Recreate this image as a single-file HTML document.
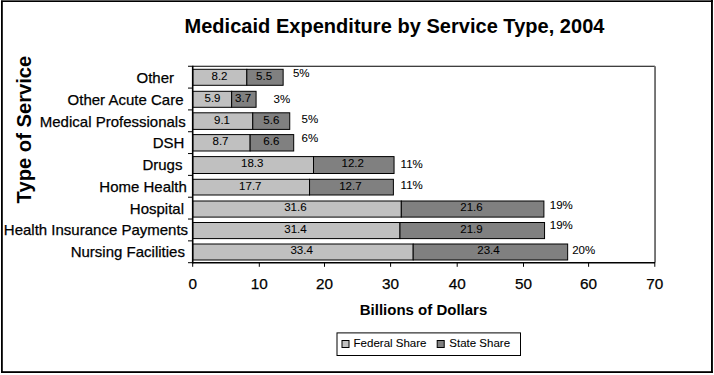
<!DOCTYPE html><html><head><meta charset="utf-8"><style>html,body{margin:0;padding:0;background:#fff;overflow:hidden}svg{display:block;}</style></head><body>
<svg width="714" height="375" viewBox="0 0 714 375" font-family='"Liberation Sans", sans-serif'>
<style>text{stroke:#000;stroke-width:0.25px;paint-order:stroke}text.s{stroke-width:0.08px}text.b{stroke:none;font-weight:bold}</style>
<rect x="0" y="0" width="714" height="375" fill="#fff"/>
<rect x="1" y="0" width="1.8" height="373" fill="#000"/>
<rect x="1" y="0" width="712" height="0.9" fill="#555"/>
<rect x="1" y="0.9" width="712" height="1.1" fill="#000"/>
<rect x="711" y="0" width="1.9" height="373" fill="#000"/>
<rect x="1" y="371.2" width="711.9" height="1.8" fill="#000"/>
<text class="b" x="394.5" y="32.6" font-size="20" letter-spacing="0.03" text-anchor="middle">Medicaid Expenditure by Service Type, 2004</text>
<text class="b" transform="translate(31.0,203.4) rotate(-90)" x="0" y="0" font-size="20.2">Type of Service</text>
<line x1="192.7" y1="66.25" x2="655" y2="66.25" stroke="#000" stroke-width="1"/>
<rect x="654.1" y="66.25" width="1.9" height="196.45" fill="#727272"/>
<rect x="192.70" y="69.30" width="54.13" height="16.00" fill="#c0c0c0" stroke="#000" stroke-width="1"/>
<rect x="246.83" y="69.30" width="36.31" height="16.00" fill="#808080" stroke="#000" stroke-width="1"/>
<text x="219.50" y="79.50" font-size="11.5" text-anchor="middle" class="s">8.2</text>
<text x="264.10" y="79.50" font-size="11.5" text-anchor="middle" class="s">5.5</text>
<text x="174.00" y="82.60" font-size="15" text-anchor="end">Other</text>
<text x="292.90" y="76.90" font-size="11.5" class="s">5%</text>
<rect x="192.70" y="91.30" width="38.95" height="16.00" fill="#c0c0c0" stroke="#000" stroke-width="1"/>
<rect x="231.65" y="91.30" width="24.43" height="16.00" fill="#808080" stroke="#000" stroke-width="1"/>
<text x="212.50" y="101.50" font-size="11.5" text-anchor="middle" class="s">5.9</text>
<text x="243.05" y="101.50" font-size="11.5" text-anchor="middle" class="s">3.7</text>
<text x="183.50" y="105.00" font-size="15" text-anchor="end">Other Acute Care</text>
<text x="273.60" y="103.30" font-size="11.5" class="s">3%</text>
<rect x="192.70" y="112.80" width="60.07" height="16.60" fill="#c0c0c0" stroke="#000" stroke-width="1"/>
<rect x="252.77" y="112.80" width="36.97" height="16.60" fill="#808080" stroke="#000" stroke-width="1"/>
<text x="222.00" y="123.80" font-size="11.5" text-anchor="middle" class="s">9.1</text>
<text x="271.30" y="123.80" font-size="11.5" text-anchor="middle" class="s">5.6</text>
<text x="185.70" y="126.90" font-size="15" text-anchor="end">Medical Professionals</text>
<text x="301.60" y="123.20" font-size="11.5" class="s">5%</text>
<rect x="192.70" y="134.60" width="57.43" height="16.40" fill="#c0c0c0" stroke="#000" stroke-width="1"/>
<rect x="250.13" y="134.60" width="43.57" height="16.40" fill="#808080" stroke="#000" stroke-width="1"/>
<text x="220.50" y="144.80" font-size="11.5" text-anchor="middle" class="s">8.7</text>
<text x="271.30" y="144.80" font-size="11.5" text-anchor="middle" class="s">6.6</text>
<text x="184.30" y="147.90" font-size="15" text-anchor="end">DSH</text>
<text x="301.60" y="142.00" font-size="11.5" class="s">6%</text>
<rect x="192.70" y="156.60" width="120.81" height="16.90" fill="#c0c0c0" stroke="#000" stroke-width="1"/>
<rect x="313.51" y="156.60" width="80.54" height="16.90" fill="#808080" stroke="#000" stroke-width="1"/>
<text x="252.20" y="166.80" font-size="11.5" text-anchor="middle" class="s">18.3</text>
<text x="352.70" y="166.80" font-size="11.5" text-anchor="middle" class="s">12.2</text>
<text x="182.40" y="169.90" font-size="15" text-anchor="end">Drugs</text>
<text x="400.60" y="168.00" font-size="11.5" class="s">11%</text>
<rect x="192.70" y="179.30" width="116.85" height="15.70" fill="#c0c0c0" stroke="#000" stroke-width="1"/>
<rect x="309.55" y="179.30" width="83.84" height="15.70" fill="#808080" stroke="#000" stroke-width="1"/>
<text x="250.30" y="189.50" font-size="11.5" text-anchor="middle" class="s">17.7</text>
<text x="350.35" y="189.50" font-size="11.5" text-anchor="middle" class="s">12.7</text>
<text x="186.90" y="192.00" font-size="15" text-anchor="end">Home Health</text>
<text x="400.60" y="188.70" font-size="11.5" class="s">11%</text>
<rect x="192.70" y="201.00" width="208.61" height="16.10" fill="#c0c0c0" stroke="#000" stroke-width="1"/>
<rect x="401.31" y="201.00" width="142.59" height="16.10" fill="#808080" stroke="#000" stroke-width="1"/>
<text x="295.40" y="211.20" font-size="11.5" text-anchor="middle" class="s">31.6</text>
<text x="471.50" y="211.20" font-size="11.5" text-anchor="middle" class="s">21.6</text>
<text x="184.00" y="213.50" font-size="15" text-anchor="end">Hospital</text>
<text x="549.80" y="209.40" font-size="11.5" class="s">19%</text>
<rect x="192.70" y="222.50" width="207.28" height="16.10" fill="#c0c0c0" stroke="#000" stroke-width="1"/>
<rect x="399.98" y="222.50" width="144.57" height="16.10" fill="#808080" stroke="#000" stroke-width="1"/>
<text x="295.50" y="232.70" font-size="11.5" text-anchor="middle" class="s">31.4</text>
<text x="471.45" y="232.70" font-size="11.5" text-anchor="middle" class="s">21.9</text>
<text x="188.10" y="235.20" font-size="15" text-anchor="end">Health Insurance Payments</text>
<text x="549.80" y="229.20" font-size="11.5" class="s">19%</text>
<rect x="192.70" y="244.00" width="220.49" height="16.00" fill="#c0c0c0" stroke="#000" stroke-width="1"/>
<rect x="413.19" y="244.00" width="154.47" height="16.00" fill="#808080" stroke="#000" stroke-width="1"/>
<text x="301.60" y="254.20" font-size="11.5" text-anchor="middle" class="s">33.4</text>
<text x="488.50" y="254.20" font-size="11.5" text-anchor="middle" class="s">23.4</text>
<text x="184.90" y="256.70" font-size="15" text-anchor="end">Nursing Facilities</text>
<text x="572.20" y="254.40" font-size="11.5" class="s">20%</text>
<line x1="192.7" y1="65.75" x2="192.7" y2="263.45" stroke="#000" stroke-width="1.6"/>
<line x1="192.7" y1="262.7" x2="655" y2="262.7" stroke="#000" stroke-width="1.5"/>
<line x1="188" y1="66.25" x2="192.7" y2="66.25" stroke="#000" stroke-width="1"/>
<line x1="188" y1="88.08" x2="192.7" y2="88.08" stroke="#000" stroke-width="1"/>
<line x1="188" y1="109.91" x2="192.7" y2="109.91" stroke="#000" stroke-width="1"/>
<line x1="188" y1="131.73" x2="192.7" y2="131.73" stroke="#000" stroke-width="1"/>
<line x1="188" y1="153.56" x2="192.7" y2="153.56" stroke="#000" stroke-width="1"/>
<line x1="188" y1="175.39" x2="192.7" y2="175.39" stroke="#000" stroke-width="1"/>
<line x1="188" y1="197.22" x2="192.7" y2="197.22" stroke="#000" stroke-width="1"/>
<line x1="188" y1="219.04" x2="192.7" y2="219.04" stroke="#000" stroke-width="1"/>
<line x1="188" y1="240.87" x2="192.7" y2="240.87" stroke="#000" stroke-width="1"/>
<line x1="188" y1="262.70" x2="192.7" y2="262.70" stroke="#000" stroke-width="1"/>
<line x1="192.70" y1="262.7" x2="192.70" y2="266.8" stroke="#000" stroke-width="1"/>
<text x="192.70" y="288.80" font-size="15.3" text-anchor="middle">0</text>
<line x1="259.30" y1="262.7" x2="259.30" y2="266.8" stroke="#000" stroke-width="1"/>
<text x="259.30" y="288.80" font-size="15.3" text-anchor="middle">10</text>
<line x1="324.50" y1="262.7" x2="324.50" y2="266.8" stroke="#000" stroke-width="1"/>
<text x="324.50" y="288.80" font-size="15.3" text-anchor="middle">20</text>
<line x1="390.60" y1="262.7" x2="390.60" y2="266.8" stroke="#000" stroke-width="1"/>
<text x="390.60" y="288.80" font-size="15.3" text-anchor="middle">30</text>
<line x1="457.20" y1="262.7" x2="457.20" y2="266.8" stroke="#000" stroke-width="1"/>
<text x="457.20" y="288.80" font-size="15.3" text-anchor="middle">40</text>
<line x1="523.50" y1="262.7" x2="523.50" y2="266.8" stroke="#000" stroke-width="1"/>
<text x="523.50" y="288.80" font-size="15.3" text-anchor="middle">50</text>
<line x1="588.60" y1="262.7" x2="588.60" y2="266.8" stroke="#000" stroke-width="1"/>
<text x="588.60" y="288.80" font-size="15.3" text-anchor="middle">60</text>
<line x1="654.80" y1="262.7" x2="654.80" y2="266.8" stroke="#000" stroke-width="1"/>
<text x="654.80" y="288.80" font-size="15.3" text-anchor="middle">70</text>
<text class="b" x="423.5" y="314.6" font-size="15" text-anchor="middle">Billions of Dollars</text>
<rect x="337" y="332.9" width="183.5" height="22.6" fill="#fff" stroke="#000" stroke-width="1"/>
<rect x="342" y="340.5" width="7" height="7" fill="#c0c0c0" stroke="#000" stroke-width="1"/>
<text x="353.60" y="346.60" font-size="11.5" class="s">Federal Share</text>
<rect x="437.2" y="340.5" width="7" height="7" fill="#808080" stroke="#000" stroke-width="1"/>
<text x="449.30" y="346.60" font-size="11.5" class="s">State Share</text>
</svg></body></html>
